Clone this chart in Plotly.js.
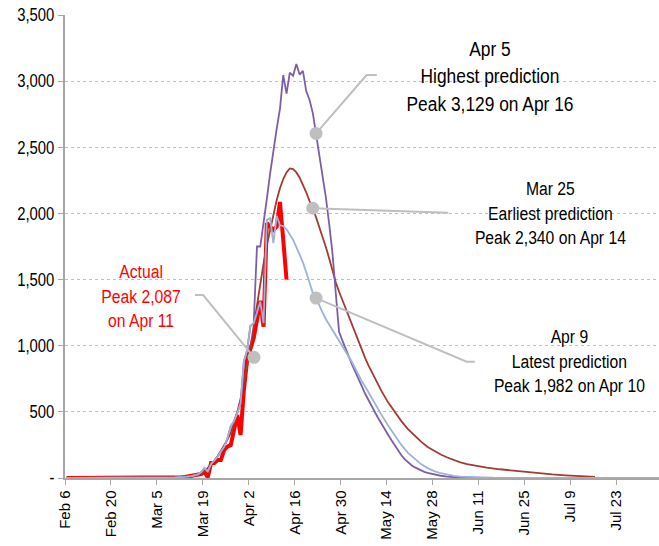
<!DOCTYPE html>
<html>
<head>
<meta charset="utf-8">
<script src="https://cdn.plot.ly/plotly-3.0.1.min.js"></script>
<style>
  html, body { margin: 0; padding: 0; background: #fff; }
  #chart { width: 659px; height: 546px; }
  /* emulate the condensed typeface of the original */
  #chart .annotation-text { transform-box: fill-box; transform-origin: 50% 50%; transform: scaleX(0.827); }
</style>
</head>
<body>
<div id="chart"></div>
<script>
// ---- Data (days counted from Feb 6, 2020) ----
const actualDays = [0, 23, 24, 25, 26, 27, 28, 29, 30, 31, 32, 33, 34, 35, 36, 37, 38, 39, 40, 41, 42, 43, 44, 45, 46, 47, 48, 49, 50, 51, 52, 53, 54, 55, 56, 57, 58, 59, 60, 61, 62, 63, 64, 65, 66, 67];
const actualVals = [0, 0, 1, 1, 2, 3, 2, 4, 3, 4, 1, 4, 5, 6, 8, 12, 15, 22, 24, 30, 48, 5, 113, 113, 136, 136, 212, 237, 249, 363, 476, 325, 665, 892, 967, 1058, 1194, 1340, 1144, 1927, 1900, 1875, 1900, 2087, 1800, 1500];

const mar25Days = [0, 30, 34, 36, 38, 40, 42, 44, 45, 46, 47, 48, 49, 50, 51, 52, 53, 54, 55, 56, 57, 58, 59, 60, 61, 62, 63, 64, 65, 66, 67, 68, 69, 70, 71, 72, 73, 74, 75, 76, 77, 78, 79, 80, 81, 82, 83, 84, 85, 86, 87, 88, 89, 90, 91, 92, 93, 94, 95, 96, 98, 100, 102, 104, 106, 108, 110, 112, 114, 116, 118, 120, 122, 125, 128, 132, 136, 140, 144, 148, 152, 156, 161];
const mar25Vals = [0, 0, 2, 5, 10, 22, 50, 100, 130, 165, 205, 245, 290, 340, 420, 500, 600, 720, 850, 990, 1150, 1310, 1480, 1620, 1760, 1880, 1990, 2100, 2190, 2260, 2310, 2340, 2335, 2310, 2270, 2220, 2160, 2095, 2040, 1970, 1900, 1830, 1745, 1660, 1560, 1480, 1410, 1345, 1280, 1215, 1150, 1090, 1025, 965, 905, 850, 800, 750, 700, 655, 570, 495, 430, 370, 320, 275, 235, 205, 178, 155, 135, 118, 105, 90, 78, 66, 55, 45, 35, 27, 20, 15, 9];

const apr5Days = [0, 25, 30, 33, 36, 38, 40, 41, 42, 43, 44, 45, 46, 47, 48, 49, 50, 51, 52, 53, 54, 55, 56, 57, 58, 59, 60, 61, 62, 63, 64, 65, 66, 67, 68, 69, 70, 71, 72, 73, 74, 75, 76, 77, 78, 79, 80, 81, 82, 83, 84, 85, 86, 87, 88, 89, 90, 91, 92, 93, 94, 95, 96, 97, 98, 99, 100, 101, 102, 103, 104, 105, 106, 107, 108, 109, 110, 112, 114, 116, 118, 120, 125, 181];
const apr5Vals = [0, 0, 2, 4, 8, 15, 28, 45, 75, 50, 105, 130, 160, 200, 235, 300, 390, 430, 490, 565, 880, 967, 1150, 1170, 1750, 1750, 1920, 2110, 2300, 2490, 2640, 2790, 3046, 2905, 3065, 3040, 3129, 3050, 3078, 2925, 2860, 2760, 2605, 2450, 2290, 2120, 1920, 1700, 1400, 1105, 1040, 975, 910, 855, 800, 740, 690, 635, 585, 540, 495, 450, 405, 365, 325, 285, 245, 205, 172, 143, 118, 98, 82, 68, 56, 46, 38, 26, 17, 10, 6, 3, 1, 0];

const apr9Days = [0, 25, 30, 33, 36, 38, 40, 41, 42, 43, 44, 45, 46, 47, 48, 49, 50, 51, 52, 53, 54, 55, 56, 57, 58, 59, 60, 61, 62, 63, 64, 65, 66, 67, 68, 69, 70, 71, 72, 73, 74, 75, 76, 77, 78, 79, 80, 81, 82, 83, 84, 85, 86, 87, 88, 89, 90, 91, 92, 93, 94, 95, 96, 98, 100, 102, 104, 106, 108, 110, 112, 114, 116, 118, 120, 125, 130, 140, 181];
const apr9Vals = [0, 0, 2, 4, 8, 15, 28, 45, 75, 50, 105, 130, 160, 200, 235, 300, 390, 430, 490, 565, 880, 967, 1150, 1170, 1250, 1333, 1170, 1950, 1965, 1775, 1982, 1910, 1905, 1880, 1840, 1800, 1745, 1690, 1630, 1555, 1475, 1400, 1360, 1300, 1250, 1200, 1160, 1120, 1080, 1040, 1000, 960, 925, 875, 825, 775, 730, 690, 645, 600, 560, 520, 475, 395, 320, 250, 190, 145, 105, 75, 52, 36, 24, 16, 10, 4, 2, 1, 0];

const tickDays = [0, 14, 28, 42, 56, 70, 84, 98, 112, 126, 140, 154, 168];
const tickLabels = ['Feb 6', 'Feb 20', 'Mar 5', 'Mar 19', 'Apr 2', 'Apr 16', 'Apr 30', 'May 14', 'May 28', 'Jun 11', 'Jun 25', 'Jul 9', 'Jul 23'];
const yTickVals = [0, 500, 1000, 1500, 2000, 2500, 3000, 3500];
const yTickLabels = ['-', '500', '1,000', '1,500', '2,000', '2,500', '3,000', '3,500'];

// callout anchors (day index into series / read position for actual)
const apr5CalloutDay = 76;
const mar25CalloutDay = 75;
const apr9CalloutDay = 76;
const actualCalloutDay = 57.1;
const actualCalloutVal = 912;

// ---- helpers ----
const START = Date.UTC(2020, 1, 6);
function pad(n) { return (n < 10 ? '0' : '') + n; }
function dayToDate(d) {
  const t = new Date(START + d * 86400000);
  return t.getUTCFullYear() + '-' + pad(t.getUTCMonth() + 1) + '-' + pad(t.getUTCDate()) + ' ' +
         pad(t.getUTCHours()) + ':' + pad(t.getUTCMinutes()) + ':' + pad(t.getUTCSeconds());
}
const mid = d => dayToDate(d + 0.5);   // points sit in the middle of their day
function valAt(days, vals, d) { return vals[days.indexOf(d)]; }

const SANS = '"Liberation Sans", Arial, sans-serif';
const GRAY = '#bfbfbf';

function series(days, vals, color, width) {
  return { type: 'scatter', mode: 'lines', x: days.map(mid), y: vals,
           line: { color: color, width: width }, hoverinfo: 'skip', showlegend: false };
}

const apr5Pt = [apr5CalloutDay, valAt(apr5Days, apr5Vals, apr5CalloutDay)];
const mar25Pt = [mar25CalloutDay, valAt(mar25Days, mar25Vals, mar25CalloutDay)];
const apr9Pt = [apr9CalloutDay, valAt(apr9Days, apr9Vals, apr9CalloutDay)];
const actPt = [actualCalloutDay, actualCalloutVal];

function leader(pts) {
  return { type: 'scatter', mode: 'lines', x: pts.map(p => mid(p[0])), y: pts.map(p => p[1]),
           line: { color: GRAY, width: 2 }, hoverinfo: 'skip', showlegend: false };
}

const traces = [
  series(actualDays, actualVals, '#ff0000', 4),
  series(mar25Days, mar25Vals, '#a23b32', 1.8),
  series(apr5Days, apr5Vals, '#7d5ea6', 1.8),
  series(apr9Days, apr9Vals, '#9db3d8', 1.8),
  leader([apr5Pt, [91.4, 3046], [94.5, 3046]]),
  leader([mar25Pt, [116.3, 2005]]),
  leader([apr9Pt, [121.9, 879], [124.4, 879]]),
  leader([actPt, [41.6, 1383], [39.1, 1383]]),
  { type: 'scatter', mode: 'markers',
    x: [apr5Pt, mar25Pt, apr9Pt, actPt].map(p => mid(p[0])),
    y: [apr5Pt, mar25Pt, apr9Pt, actPt].map(p => p[1]),
    marker: { color: GRAY, size: 13 }, hoverinfo: 'skip', showlegend: false }
];

const layout = {
  width: 659, height: 546,
  margin: { l: 65, r: 0, t: 15, b: 68 },
  paper_bgcolor: '#ffffff', plot_bgcolor: '#ffffff',
  showlegend: false, hovermode: false,
  xaxis: {
    type: 'date',
    range: [dayToDate(0), dayToDate(181)],
    tickvals: tickDays.map(dayToDate), ticktext: tickLabels,
    tickangle: -90,
    tickfont: { family: SANS, size: 15, color: '#000' },
    showgrid: false, zeroline: false,
    showline: true, linecolor: '#a6a6a6', linewidth: 1.5,
    ticks: 'outside', ticklen: 5, tickcolor: '#a6a6a6', tickwidth: 1
  },
  yaxis: {
    range: [0, 3500],
    tickvals: yTickVals, ticktext: yTickLabels,
    tickfont: { family: SANS, size: 18, color: '#000' },
    showgrid: true, gridcolor: GRAY, griddash: 'dot', gridwidth: 1,
    zeroline: false,
    showline: true, linecolor: '#a6a6a6', linewidth: 2,
    ticks: 'outside', ticklen: 5, tickcolor: '#a6a6a6', tickwidth: 1
  },
  annotations: [
    { xref: 'paper', yref: 'paper', x: 0.7155, y: 0.868, xanchor: 'center', yanchor: 'middle',
      text: 'Apr 5<br>Highest prediction<br>Peak 3,129 on Apr 16', showarrow: false,
      font: { family: SANS, size: 21, color: '#000' } },
    { xref: 'paper', yref: 'paper', x: 0.818, y: 0.572, xanchor: 'center', yanchor: 'middle',
      text: 'Mar 25<br>Earliest prediction<br>Peak 2,340 on Apr 14', showarrow: false,
      font: { family: SANS, size: 19, color: '#000' } },
    { xref: 'paper', yref: 'paper', x: 0.849, y: 0.2527, xanchor: 'center', yanchor: 'middle',
      text: 'Apr 9<br>Latest prediction<br>Peak 1,982 on Apr 10', showarrow: false,
      font: { family: SANS, size: 19, color: '#000' } },
    { xref: 'paper', yref: 'paper', x: 0.128, y: 0.393, xanchor: 'center', yanchor: 'middle',
      text: 'Actual<br>Peak 2,087<br>on Apr 11', showarrow: false,
      font: { family: SANS, size: 19, color: '#ff0000' } }
  ]
};

// narrow the y tick labels (condensed look), keeping their right edge in place
function condenseYTicks() {
  document.querySelectorAll('#chart .ytick text').forEach(function (t) {
    const base = t.getAttribute('data-base-transform') !== null ? t.getAttribute('data-base-transform') : (t.getAttribute('transform') || '');
    t.setAttribute('data-base-transform', base);
    const x = parseFloat(t.getAttribute('x')) || 0;
    const y = parseFloat(t.getAttribute('y')) || 0;
    t.setAttribute('transform', base + ' translate(' + x + ',' + y + ') scale(0.827,1) translate(' + (-x) + ',' + (-y) + ')');
  });
}

Plotly.newPlot('chart', traces, layout, { staticPlot: true, displayModeBar: false }).then(condenseYTicks);
</script>
</body>
</html>
